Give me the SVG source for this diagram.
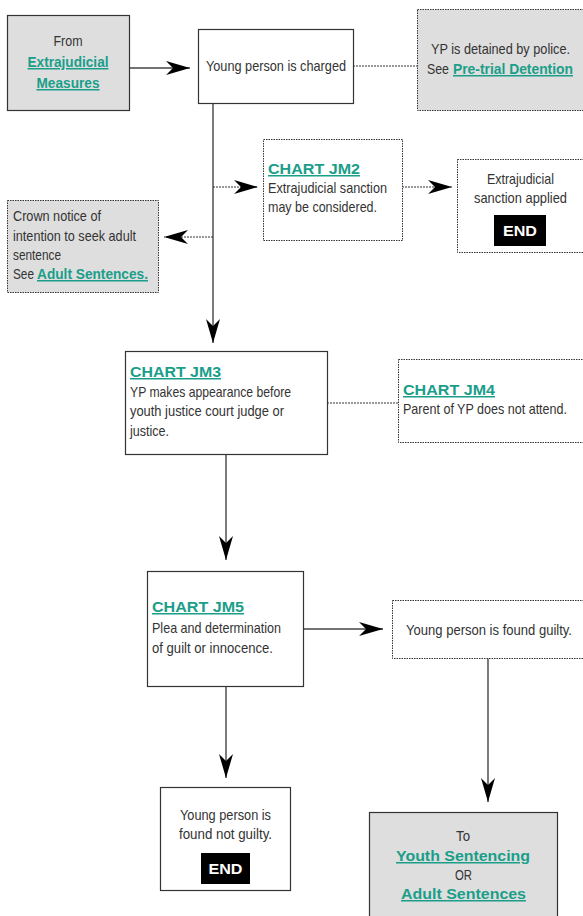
<svg xmlns="http://www.w3.org/2000/svg" width="583" height="916" viewBox="0 0 583 916">
<defs>
<marker id="ah" viewBox="0 0 24 14" refX="24" refY="7" markerWidth="24" markerHeight="14" markerUnits="userSpaceOnUse" orient="auto">
<path d="M0,0 L24,7 L0,14 L7,7 z" fill="#000"/>
</marker>
<style>
.t{font-family:"Liberation Sans",Arial,sans-serif;font-size:15px;fill:#333;}
.c{text-anchor:middle;}
.l{font-weight:bold;fill:#1a9e8a;text-decoration:underline;font-size:15px;}
.solid{fill:#fff;stroke:#333;stroke-width:1.2;}
.dot{fill:#fff;stroke:#333;stroke-width:1;stroke-dasharray:1.5 1;}
.grey{fill:#dedede;}
.ln{stroke:#444;stroke-width:1.4;fill:none;}
.dl{stroke:#333;stroke-width:1;stroke-dasharray:2 1;fill:none;}
.end{fill:#000;}
.et{font-family:"Liberation Sans",Arial,sans-serif;font-size:15px;font-weight:bold;fill:#fff;text-anchor:middle;}
</style>
</defs>
<g id="connectors">
<line class="ln" x1="130" y1="68" x2="190" y2="68" marker-end="url(#ah)"/>
<line class="dl" x1="353" y1="66" x2="417" y2="66"/>
<line class="ln" x1="213" y1="103" x2="213" y2="343" marker-end="url(#ah)"/>
<line class="dl" x1="213" y1="187" x2="258" y2="187" marker-end="url(#ah)"/>
<line class="dl" x1="402" y1="187" x2="452" y2="187" marker-end="url(#ah)"/>
<line class="dl" x1="213" y1="237" x2="164" y2="237" marker-end="url(#ah)"/>
<line class="dl" x1="327" y1="403" x2="398" y2="403"/>
<line class="ln" x1="226" y1="454" x2="226" y2="560" marker-end="url(#ah)"/>
<line class="ln" x1="303" y1="629" x2="383" y2="629" marker-end="url(#ah)"/>
<line class="ln" x1="488" y1="658" x2="488" y2="802" marker-end="url(#ah)"/>
<line class="ln" x1="226" y1="686" x2="226" y2="778" marker-end="url(#ah)"/>
</g>
<g id="n-from">
<rect class="solid grey" x="7.5" y="15.5" width="122" height="95"/>
<text class="t c" x="68" y="46" textLength="29" lengthAdjust="spacingAndGlyphs">From</text>
<text class="t c l" x="68" y="67" textLength="81" lengthAdjust="spacingAndGlyphs">Extrajudicial</text>
<text class="t c l" x="68" y="88" textLength="63" lengthAdjust="spacingAndGlyphs">Measures</text>
</g>
<g id="n-charged">
<rect class="solid" x="198.5" y="29.5" width="155" height="74"/>
<text class="t c" x="276" y="71" textLength="140" lengthAdjust="spacingAndGlyphs">Young person is charged</text>
</g>
<g id="n-detained">
<rect class="dot grey" x="417.5" y="9.5" width="170" height="101"/>
<text class="t c" x="500.5" y="54" textLength="139" lengthAdjust="spacingAndGlyphs">YP is detained by police.</text>
<text class="t" x="427" y="74" textLength="22" lengthAdjust="spacingAndGlyphs">See</text>
<text class="t l" x="453" y="74" textLength="120" lengthAdjust="spacingAndGlyphs">Pre-trial Detention</text>
</g>
<g id="n-jm2">
<rect class="dot" x="263.5" y="139.5" width="139" height="101"/>
<text class="t l" x="268" y="174" textLength="92" lengthAdjust="spacingAndGlyphs">CHART JM2</text>
<text class="t" x="268" y="193" textLength="119" lengthAdjust="spacingAndGlyphs">Extrajudicial sanction</text>
<text class="t" x="268" y="212" textLength="109" lengthAdjust="spacingAndGlyphs">may be considered.</text>
</g>
<g id="n-applied">
<rect class="dot" x="457.5" y="159.5" width="130" height="93"/>
<text class="t c" x="520.5" y="184" textLength="67" lengthAdjust="spacingAndGlyphs">Extrajudicial</text>
<text class="t c" x="520.5" y="203" textLength="93" lengthAdjust="spacingAndGlyphs">sanction applied</text>
<rect class="end" x="494" y="215" width="52" height="31"/>
<text class="et" x="520" y="236" textLength="34" lengthAdjust="spacingAndGlyphs">END</text>
</g>
<g id="n-crown">
<rect class="dot grey" x="7.5" y="200.5" width="151" height="92"/>
<text class="t" x="13" y="221" textLength="88" lengthAdjust="spacingAndGlyphs">Crown notice of</text>
<text class="t" x="13" y="241" textLength="123" lengthAdjust="spacingAndGlyphs">intention to seek adult</text>
<text class="t" x="13" y="260" textLength="48" lengthAdjust="spacingAndGlyphs">sentence</text>
<text class="t" x="13" y="279" textLength="21" lengthAdjust="spacingAndGlyphs">See</text>
<text class="t l" x="37" y="279" textLength="111" lengthAdjust="spacingAndGlyphs">Adult Sentences.</text>
</g>
<g id="n-jm3">
<rect class="solid" x="125.5" y="351.5" width="202" height="103"/>
<text class="t l" x="130" y="377" textLength="91" lengthAdjust="spacingAndGlyphs">CHART JM3</text>
<text class="t" x="130" y="397" textLength="161" lengthAdjust="spacingAndGlyphs">YP makes appearance before</text>
<text class="t" x="130" y="416" textLength="154" lengthAdjust="spacingAndGlyphs">youth justice court judge or</text>
<text class="t" x="130" y="436" textLength="39" lengthAdjust="spacingAndGlyphs">justice.</text>
</g>
<g id="n-jm4">
<rect class="dot" x="398.5" y="359.5" width="190" height="83"/>
<text class="t l" x="403" y="395" textLength="92" lengthAdjust="spacingAndGlyphs">CHART JM4</text>
<text class="t" x="403" y="414" textLength="164" lengthAdjust="spacingAndGlyphs">Parent of YP does not attend.</text>
</g>
<g id="n-jm5">
<rect class="solid" x="147.5" y="571.5" width="156" height="115"/>
<text class="t l" x="152" y="612" textLength="92" lengthAdjust="spacingAndGlyphs">CHART JM5</text>
<text class="t" x="152" y="633" textLength="129" lengthAdjust="spacingAndGlyphs">Plea and determination</text>
<text class="t" x="152" y="653" textLength="121" lengthAdjust="spacingAndGlyphs">of guilt or innocence.</text>
</g>
<g id="n-guilty">
<rect class="dot" x="392.5" y="600.5" width="195" height="58"/>
<text class="t c" x="489" y="635" textLength="166" lengthAdjust="spacingAndGlyphs">Young person is found guilty.</text>
</g>
<g id="n-notguilty">
<rect class="solid" x="160.5" y="787.5" width="130" height="103"/>
<text class="t c" x="225.5" y="820" textLength="91" lengthAdjust="spacingAndGlyphs">Young person is</text>
<text class="t c" x="225.5" y="839" textLength="93" lengthAdjust="spacingAndGlyphs">found not guilty.</text>
<rect class="end" x="201" y="853" width="49" height="31"/>
<text class="et" x="225.5" y="874" textLength="34" lengthAdjust="spacingAndGlyphs">END</text>
</g>
<g id="n-sentencing">
<rect class="solid grey" x="369.5" y="812.5" width="188" height="110"/>
<text class="t c" x="463" y="841" textLength="14" lengthAdjust="spacingAndGlyphs">To</text>
<text class="t c l" x="463" y="861" textLength="134" lengthAdjust="spacingAndGlyphs">Youth Sentencing</text>
<text class="t c" x="463.5" y="880" textLength="17" lengthAdjust="spacingAndGlyphs">OR</text>
<text class="t c l" x="463.5" y="899" textLength="125" lengthAdjust="spacingAndGlyphs">Adult Sentences</text>
</g>
</svg>
